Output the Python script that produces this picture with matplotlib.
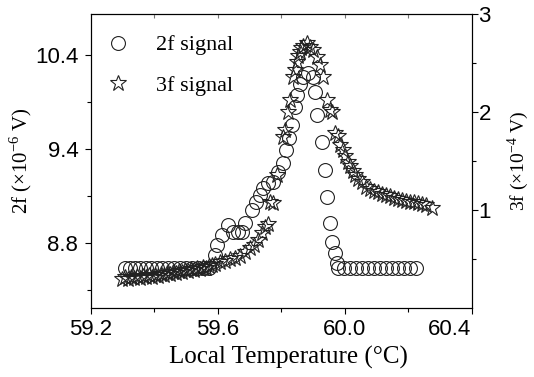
import numpy as np
import matplotlib
matplotlib.use('Agg')
import matplotlib.pyplot as plt
from matplotlib.lines import Line2D

plt.rcParams['font.family'] = 'Liberation Serif'
plt.rcParams['mathtext.fontset'] = 'custom'
plt.rcParams['mathtext.rm'] = 'Liberation Serif'

# 2f signal (left axis, x1e-6 V)
t_2f = [59.308, 59.324, 59.340, 59.356, 59.374, 59.390, 59.409, 59.425, 59.444,
        59.463, 59.482, 59.501, 59.520, 59.538, 59.557, 59.573,
        59.592, 59.598, 59.614, 59.633, 59.649, 59.665, 59.677, 59.687, 59.709,
        59.721, 59.734, 59.744, 59.759, 59.775, 59.791, 59.807, 59.816, 59.826,
        59.835, 59.844, 59.851, 59.860, 59.870, 59.885, 59.901, 59.908, 59.914,
        59.930, 59.939, 59.945, 59.955, 59.961, 59.971, 59.977,
        59.980, 59.999, 60.018, 60.037, 60.056, 60.075, 60.094, 60.113, 60.132,
        60.150, 60.169, 60.188, 60.207, 60.226]
v_2f = [8.64, 8.64, 8.64, 8.64, 8.64, 8.64, 8.64, 8.64, 8.64,
        8.64, 8.64, 8.64, 8.64, 8.64, 8.64, 8.64,
        8.723, 8.787, 8.851, 8.915, 8.870, 8.870, 8.870, 8.928, 9.011,
        9.062, 9.106, 9.151, 9.183, 9.189, 9.253, 9.311, 9.394, 9.517,
        9.655, 9.847, 9.974, 10.091, 10.166, 10.209, 10.166, 10.006, 9.762,
        9.474, 9.266, 9.094, 8.928, 8.806, 8.736, 8.672,
        8.64, 8.64, 8.64, 8.64, 8.64, 8.64, 8.64, 8.64, 8.64,
        8.64, 8.64, 8.64, 8.64, 8.64]

# 3f signal (right axis, x1e-4 V)
t_3f = [59.299, 59.308, 59.318, 59.327, 59.337, 59.346, 59.356, 59.365, 59.374,
        59.384, 59.393, 59.403, 59.412, 59.422, 59.431, 59.441, 59.450, 59.460,
        59.469, 59.478, 59.488, 59.497, 59.507, 59.516, 59.526, 59.535, 59.545,
        59.554, 59.564, 59.573, 59.583,
        59.592, 59.608, 59.624, 59.639, 59.655, 59.671, 59.687, 59.703, 59.715,
        59.728, 59.740, 59.750, 59.759, 59.766, 59.775, 59.788, 59.807, 59.813,
        59.822, 59.829, 59.838, 59.844, 59.851, 59.854, 59.860, 59.863, 59.870,
        59.882, 59.892, 59.901, 59.914, 59.923, 59.933, 59.945, 59.955, 59.961,
        59.971, 59.980, 59.986, 59.996, 60.002, 60.012, 60.018, 60.027, 60.034,
        60.043, 60.056, 60.068, 60.081, 60.094, 60.106, 60.119, 60.132, 60.144,
        60.157, 60.169, 60.182, 60.195, 60.207, 60.220, 60.232, 60.245, 60.258,
        60.277]
v_3f = [0.296, 0.316, 0.296, 0.316, 0.306, 0.327, 0.306, 0.327, 0.316,
        0.337, 0.316, 0.337, 0.327, 0.347, 0.337, 0.357, 0.347, 0.367,
        0.357, 0.378, 0.367, 0.388, 0.378, 0.398, 0.388, 0.408, 0.398,
        0.418, 0.408, 0.429, 0.439,
        0.449, 0.469, 0.480, 0.500, 0.510, 0.531, 0.571, 0.612, 0.643,
        0.694, 0.765, 0.827, 0.857, 1.082, 1.071, 1.357, 1.745, 1.816,
        2.000, 2.122, 2.357, 2.429, 2.510, 2.571, 2.612, 2.653, 2.673,
        2.704, 2.663, 2.633, 2.561, 2.480, 2.357, 2.122, 2.020, 2.000,
        1.786, 1.755, 1.663, 1.612, 1.551, 1.490, 1.449, 1.398, 1.357,
        1.316, 1.286, 1.235, 1.214, 1.194, 1.184, 1.163, 1.153, 1.143,
        1.122, 1.112, 1.102, 1.092, 1.082, 1.082, 1.071, 1.061, 1.051,
        1.020]

x_ticks = [59.2, 59.6, 60.0, 60.4]
x_labels = ['59.2', '59.6', '60.0', '60.4']
left_ticks = [8.8, 9.4, 10.4]
left_labels = ['8.8', '9.4', '10.4']
right_ticks = [1, 2, 3]


# the left axis is not linear: 8.8, 9.4 and 10.4 sit equally spaced
def fwd(v):
    v = np.asarray(v, float)
    return np.where(v <= 9.4, (v - 8.8) / 0.6, 1 + (v - 9.4))


def inv(u):
    u = np.asarray(u, float)
    return np.where(u <= 1, 8.8 + 0.6 * u, 9.4 + (u - 1))


sans = 'Liberation Sans'
ink = '#222222'

fig = plt.figure(figsize=(5.34, 3.77), dpi=100)
ax = fig.add_axes([0.170, 0.183, 0.713, 0.780])
ax2 = ax.twinx()

ax.plot(t_2f, v_2f, 'o', mfc='none', mec=ink, mew=0.8, ms=10)
ax2.plot(t_3f, v_3f, '*', mfc='none', mec=ink, mew=0.8, ms=12)

ax.set_yscale('function', functions=(fwd, inv))
ax.set_ylim(8.385, 10.836)
ax.set_xlim(59.2, 60.4)
ax2.set_ylim(0, 3.0)

ax.set_xticks(x_ticks)
ax.set_xticklabels(x_labels, fontfamily=sans, fontsize=16)
ax.get_xticklabels()[-1].set_ha('right')
ax.set_xticks([59.4, 59.8, 60.2], minor=True)
ax.set_yticks(left_ticks)
ax.set_yticklabels(left_labels, fontfamily=sans, fontsize=16)
ax.set_yticks([8.5, 9.1, 9.9], minor=True)
ax2.set_yticks(right_ticks)
ax2.set_yticklabels([str(t) for t in right_ticks], fontfamily=sans, fontsize=16)
ax2.set_yticks([0.5, 1.5, 2.5], minor=True)

for a in (ax, ax2):
    a.tick_params(which='major', direction='out', length=4, width=0.8)
    a.tick_params(which='minor', direction='out', length=3, width=0.8)
ax.tick_params(axis='y', pad=5)
ax.tick_params(axis='x', pad=4)
ax2.tick_params(axis='y', pad=1)

top = ax.secondary_xaxis('top')
top.set_xticks([59.4, 59.6, 59.8, 60.0, 60.2])
top.set_xticklabels([])
top.tick_params(direction='in', length=3, width=0.8, color='#777777')
top.spines['top'].set_color('#777777')
ax.spines['top'].set_color('#777777')

ax.set_xlabel('Local Temperature (°C)', fontsize=18, labelpad=5)
ax.xaxis.set_label_coords(0.52, -0.13)
ax.set_ylabel('2f (×10$^{-6}$ V)', fontsize=15, labelpad=1)
ax2.set_ylabel('3f (×10$^{-4}$ V)', fontsize=14, labelpad=10)

handles = [Line2D([], [], ls='none', marker='o', mfc='none', mec=ink, mew=0.8, ms=10),
           Line2D([], [], ls='none', marker='*', mfc='none', mec=ink, mew=0.8, ms=12)]
ax2.legend(handles, ['2f signal', '3f signal'], loc='upper left', frameon=False,
           fontsize=16, handlelength=1.0, handletextpad=1.23, labelspacing=0.9,
           borderaxespad=0, bbox_to_anchor=(0.1835, 0.931),
           bbox_transform=fig.transFigure)

plt.savefig('out.png', dpi=100)
